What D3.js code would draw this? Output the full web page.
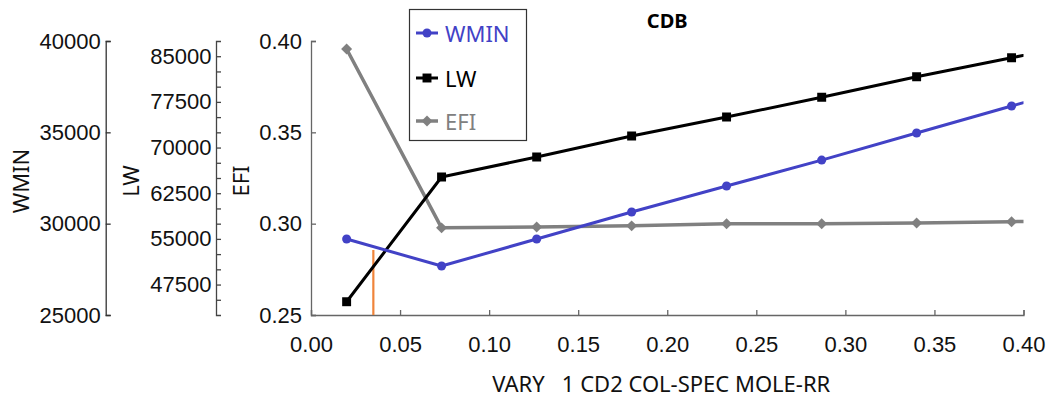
<!DOCTYPE html>
<html>
<head>
<meta charset="utf-8">
<script src="https://cdn.jsdelivr.net/npm/d3@7"></script>
<style>
  html, body { margin: 0; padding: 0; background: #fff; }
  svg { display: block; font-family: "Noto Sans", "Open Sans", sans-serif; }
  .tick text { font-size: 22px; fill: #111; }
  .lab { font-size: 22px; fill: #111; white-space: pre; }
</style>
</head>
<body>
<svg id="chart" width="1052" height="400"></svg>
<script>
// x values of the case sweep (last one sits past the axis end and is clipped)
const xVals = [0.02, 0.0733, 0.1267, 0.18, 0.2333, 0.2867, 0.34, 0.3933, 0.4467];
const wminVals = [29160, 27680, 29160, 30640, 32060, 33480, 34960, 36440, 37920];
const lwVals = [44680, 65160, 68440, 71890, 75010, 78250, 81630, 84750, 87870];
const efiVals = [0.3956, 0.2977, 0.2982, 0.2988, 0.2999, 0.2999, 0.3004, 0.3011, 0.3017];

const xTicks = [0, 0.05, 0.1, 0.15, 0.2, 0.25, 0.3, 0.35, 0.4];
const wminTicks = [25000, 30000, 35000, 40000];
const lwTicks = [45000, 47500, 50000, 52500, 55000, 57500, 60000, 62500, 65000,
  67500, 70000, 72500, 75000, 77500, 80000, 82500, 85000];
const lwLabelled = [47500, 55000, 62500, 70000, 77500, 85000];
const efiTicks = [0.25, 0.3, 0.35, 0.4];

// orange marker line (x position, top in EFI units)
const markerX = 0.035;
const markerTop = 0.2856;

const title = "CDB";
const xTitle = "VARY   1 CD2 COL-SPEC MOLE-RR";

const svg = d3.select("#chart");
const plot = { left: 311, right: 1023.5, top: 41, bottom: 315 };

const x = d3.scaleLinear().domain([0, 0.4]).range([plot.left, plot.right]);
const yW = d3.scaleLinear().domain([25000, 40000]).range([plot.bottom, plot.top]);
const yL = d3.scaleLinear().domain([42500, 87500]).range([plot.bottom, plot.top]);
const yE = d3.scaleLinear().domain([0.25, 0.4]).range([plot.bottom, plot.top]);

const series = [
  { name: "WMIN", vals: wminVals, y: yW, color: "#4242c6", width: 3, shape: "circle" },
  { name: "LW", vals: lwVals, y: yL, color: "#000000", width: 3, shape: "square" },
  { name: "EFI", vals: efiVals, y: yE, color: "#808080", width: 3.5, shape: "diamond" },
];

function styleAxis(g, color) {
  g.select(".domain").attr("stroke", color).attr("stroke-width", 1.3);
  g.selectAll(".tick line").attr("stroke", color).attr("stroke-width", 1.3);
  g.selectAll(".tick text").attr("font-family", null).attr("font-size", null);
}

// left axes, ticks pointing inward
const axW = svg.append("g").attr("transform", "translate(105.7,0)")
  .call(d3.axisLeft(yW).tickValues(wminTicks).tickFormat(d3.format("d"))
    .tickSizeInner(-5).tickSizeOuter(-5).tickPadding(5));
styleAxis(axW, "#333");

const axL = svg.append("g").attr("transform", "translate(216,0)")
  .call(d3.axisLeft(yL).tickValues(lwTicks)
    .tickFormat((d) => (lwLabelled.includes(d) ? d3.format("d")(d) : ""))
    .tickSizeInner(-5).tickSizeOuter(-5).tickPadding(4.5));
styleAxis(axL, "#444");

const axE = svg.append("g").attr("transform", `translate(${plot.left},0)`)
  .call(d3.axisLeft(yE).tickValues(efiTicks).tickFormat(d3.format(".2f"))
    .tickSizeInner(-5).tickSizeOuter(-5).tickPadding(9));
styleAxis(axE, "#666");

const axX = svg.append("g").attr("transform", `translate(0,${plot.bottom})`)
  .call(d3.axisBottom(x).tickValues(xTicks).tickFormat(d3.format(".2f"))
    .tickSizeInner(-5).tickSizeOuter(-5).tickPadding(21));
styleAxis(axX, "#666");

// axis titles
const ymid = (plot.top + plot.bottom) / 2 + 3;
[["WMIN", 20], ["LW", 130], ["EFI", 240]].forEach(([t, cx]) => {
  svg.append("text").attr("class", "lab")
    .attr("transform", `translate(${cx},${ymid}) rotate(-90)`)
    .attr("text-anchor", "middle").attr("dominant-baseline", "central")
    .text(t);
});

svg.append("text").attr("class", "lab")
  .attr("x", (plot.left + plot.right) / 2 - 6).attr("y", 392)
  .attr("text-anchor", "middle").text(xTitle);

svg.append("text")
  .attr("x", (plot.left + plot.right) / 2).attr("y", 28)
  .attr("text-anchor", "middle").attr("font-size", 20).attr("font-weight", "bold")
  .attr("fill", "#000").text(title);

// plot contents, clipped to the axis box
svg.append("clipPath").attr("id", "clip").append("rect")
  .attr("x", plot.left).attr("y", plot.top - 10)
  .attr("width", plot.right - plot.left).attr("height", plot.bottom - plot.top + 10);
const pg = svg.append("g").attr("clip-path", "url(#clip)");

pg.append("line")
  .attr("x1", x(markerX)).attr("x2", x(markerX))
  .attr("y1", yE(0.25)).attr("y2", yE(markerTop))
  .attr("stroke", "#f0843a").attr("stroke-width", 2.2);

const symbolOf = {
  circle: { gen: d3.symbol(d3.symbolCircle, 64), rot: 0 },
  square: { gen: d3.symbol(d3.symbolSquare, 80), rot: 0 },
  diamond: { gen: d3.symbol(d3.symbolSquare, 60), rot: 45 },
};

function placeMarker(sel, s, cx, cy) {
  const sym = symbolOf[s.shape];
  return sel.attr("d", sym.gen())
    .attr("transform", `translate(${cx},${cy}) rotate(${sym.rot})`)
    .attr("fill", s.color);
}

// draw EFI first so black/blue sit on top
[series[2], series[1], series[0]].forEach((s) => {
  const pts = xVals.map((xv, i) => [x(xv), s.y(s.vals[i])]);
  pg.append("path").attr("d", d3.line()(pts))
    .attr("fill", "none").attr("stroke", s.color).attr("stroke-width", s.width)
    .attr("stroke-linejoin", "round");
  pts.forEach((p) => placeMarker(pg.append("path"), s, p[0], p[1]));
});

// legend
const lg = svg.append("g");
lg.append("rect").attr("x", 409.5).attr("y", 9.5).attr("width", 117).attr("height", 131)
  .attr("fill", "#fff").attr("stroke", "#333").attr("stroke-width", 1.2);
[33, 78, 121].forEach((yy, i) => {
  const s = series[i];
  lg.append("line").attr("x1", 416).attr("x2", 438).attr("y1", yy).attr("y2", yy)
    .attr("stroke", s.color).attr("stroke-width", s.width);
  placeMarker(lg.append("path"), s, 427, yy);
  lg.append("text").attr("x", 445).attr("y", yy).attr("dominant-baseline", "central")
    .attr("font-size", 22).attr("fill", s.color).text(s.name);
});
</script>
</body>
</html>
